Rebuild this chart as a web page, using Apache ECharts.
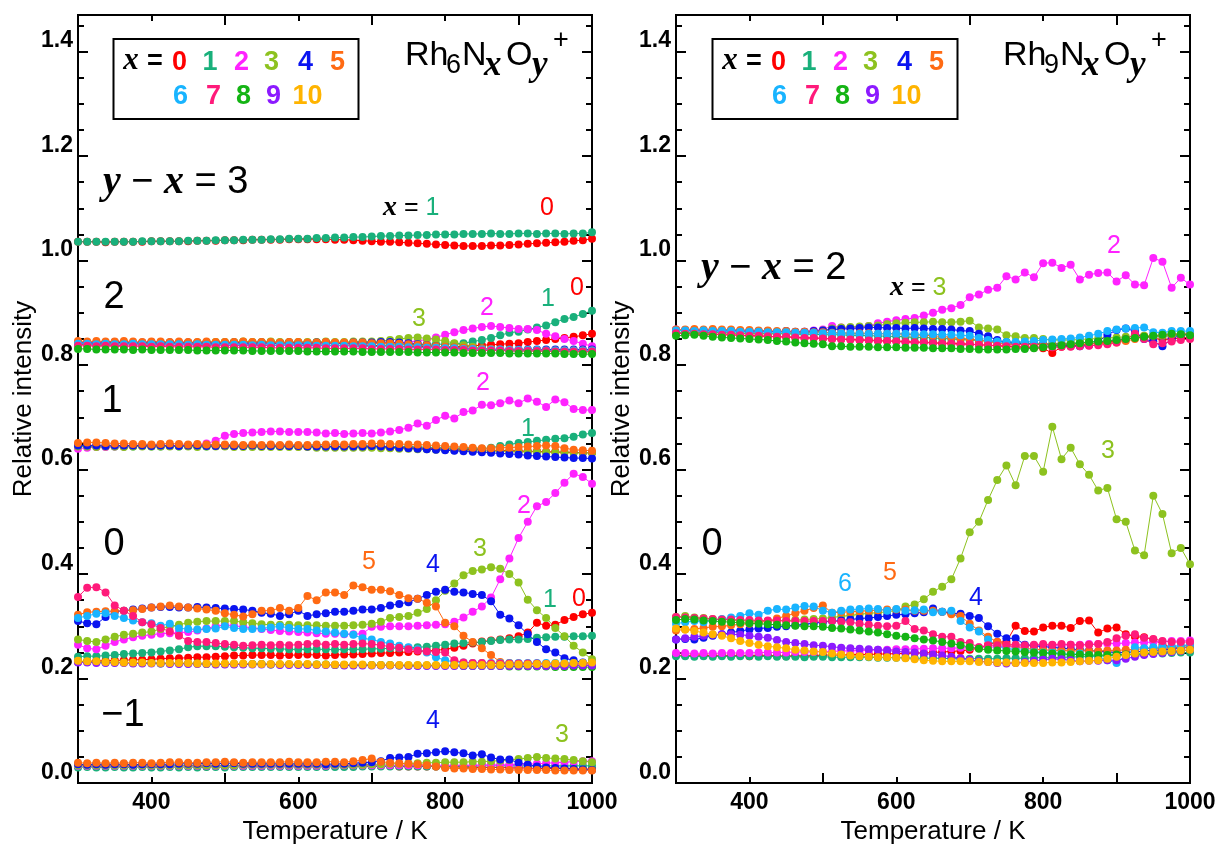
<!DOCTYPE html>
<html>
<head>
<meta charset="utf-8">
<script src="https://cdn.jsdelivr.net/npm/echarts@6/dist/echarts.min.js"></script>
<style>
  html, body { margin: 0; padding: 0; background: #fff; }
  #chart { width: 1221px; height: 850px; }
</style>
</head>
<body>
<div id="chart"></div>
<script>
// temperature points (K), shared by every trace
const temps = [300,312.5,325,337.5,350,362.5,375,387.5,400,412.5,425,437.5,450,462.5,475,487.5,500,512.5,525,537.5,
  550,562.5,575,587.5,600,612.5,625,637.5,650,662.5,675,687.5,700,712.5,725,737.5,750,762.5,775,787.5,
  800,812.5,825,837.5,850,862.5,875,887.5,900,912.5,925,937.5,950,962.5,975,987.5,1000];

// tick labels
const xMajor = [400, 600, 800, 1000];
const yMajor = [0, 0.2, 0.4, 0.6, 0.8, 1.0, 1.2, 1.4];

// number of N atoms (x) and their colours
const xValues = [0,1,2,3,4,5,6,7,8,9,10];
const xColors = ['#ff0000','#19b07b','#ff22ff','#8dc21f','#0a14f0','#ff6a13','#18b4ff','#ff1a7a','#14b414','#8c1aff','#ffb400'];

// ---- Rh6NxOy+ , y - x = 3
const rh6_y3_x0 = [1.016,1.016,1.016,1.015,1.016,1.016,1.016,1.016,1.017,1.017,
  1.017,1.017,1.017,1.018,1.018,1.018,1.019,1.019,1.019,1.020,
  1.020,1.020,1.020,1.021,1.021,1.021,1.021,1.021,1.020,1.020,
  1.019,1.018,1.017,1.016,1.016,1.015,1.014,1.013,1.012,1.011,
  1.010,1.009,1.008,1.008,1.008,1.009,1.009,1.010,1.011,1.012,
  1.013,1.014,1.015,1.016,1.018,1.019,1.022];
const rh6_y3_x1 = [1.016,1.016,1.016,1.016,1.016,1.016,1.016,1.017,1.017,1.017,
  1.017,1.017,1.018,1.018,1.018,1.019,1.019,1.019,1.020,1.020,
  1.020,1.021,1.021,1.022,1.022,1.022,1.023,1.023,1.024,1.024,
  1.025,1.025,1.026,1.027,1.027,1.028,1.028,1.029,1.029,1.030,
  1.030,1.030,1.031,1.031,1.031,1.032,1.031,1.031,1.032,1.032,
  1.031,1.032,1.032,1.031,1.032,1.032,1.034];

// ---- Rh6NxOy+ , y - x = 2
const rh6_y2_x0 = [0.820,0.819,0.818,0.819,0.818,0.818,0.819,0.818,0.818,0.819,
  0.818,0.818,0.819,0.818,0.818,0.819,0.818,0.818,0.818,0.819,
  0.818,0.818,0.818,0.819,0.818,0.818,0.819,0.818,0.818,0.818,
  0.819,0.818,0.818,0.817,0.817,0.816,0.816,0.816,0.815,0.815,
  0.815,0.815,0.816,0.817,0.818,0.819,0.820,0.821,0.822,0.824,
  0.826,0.828,0.830,0.832,0.834,0.837,0.840];
const rh6_y2_x1 = [0.822,0.822,0.821,0.822,0.821,0.822,0.822,0.821,0.822,0.822,
  0.823,0.822,0.822,0.823,0.823,0.822,0.823,0.823,0.824,0.823,
  0.823,0.824,0.823,0.823,0.823,0.822,0.823,0.822,0.822,0.822,
  0.822,0.821,0.821,0.821,0.820,0.820,0.820,0.820,0.820,0.820,
  0.820,0.821,0.822,0.825,0.828,0.832,0.837,0.842,0.844,0.848,
  0.852,0.856,0.862,0.868,0.872,0.878,0.884];
const rh6_y2_x2 = [0.822,0.821,0.822,0.822,0.821,0.822,0.822,0.822,0.821,0.822,
  0.822,0.822,0.821,0.822,0.822,0.822,0.822,0.821,0.822,0.822,
  0.822,0.822,0.821,0.822,0.822,0.822,0.821,0.822,0.822,0.822,
  0.822,0.822,0.822,0.822,0.823,0.823,0.824,0.826,0.829,0.833,
  0.838,0.843,0.847,0.850,0.853,0.855,0.853,0.851,0.849,0.849,
  0.847,0.840,0.835,0.830,0.826,0.821,0.816];
const rh6_y2_x3 = [0.820,0.821,0.820,0.821,0.822,0.821,0.822,0.822,0.822,0.823,
  0.822,0.823,0.823,0.823,0.823,0.824,0.824,0.824,0.825,0.824,
  0.824,0.825,0.824,0.824,0.824,0.824,0.824,0.825,0.824,0.824,
  0.825,0.825,0.825,0.826,0.828,0.830,0.832,0.833,0.831,0.829,
  0.826,0.822,0.818,0.815,0.812,0.810,0.809,0.808,0.808,0.807,
  0.807,0.806,0.806,0.806,0.805,0.805,0.805];
const rh6_y2_x4 = [0.822,0.823,0.822,0.823,0.824,0.823,0.822,0.823,0.824,0.822,
  0.823,0.822,0.823,0.822,0.823,0.822,0.822,0.823,0.822,0.822,
  0.823,0.822,0.822,0.823,0.822,0.822,0.823,0.823,0.822,0.822,
  0.823,0.823,0.823,0.824,0.824,0.823,0.822,0.820,0.818,0.816,
  0.814,0.813,0.812,0.811,0.811,0.810,0.810,0.810,0.810,0.810,
  0.810,0.810,0.810,0.810,0.810,0.810,0.810];
const rh6_y2_x5 = [0.826,0.825,0.826,0.825,0.825,0.826,0.825,0.824,0.825,0.825,
  0.824,0.825,0.824,0.824,0.825,0.824,0.824,0.824,0.825,0.824,
  0.824,0.824,0.823,0.824,0.824,0.823,0.823,0.824,0.823,0.823,
  0.823,0.823,0.822,0.822,0.822,0.821,0.820,0.819,0.818,0.816,
  0.815,0.814,0.813,0.812,0.811,0.811,0.810,0.810,0.809,0.809,
  0.809,0.808,0.808,0.808,0.808,0.808,0.808];
const rh6_y2_x6 = [0.821,0.821,0.820,0.821,0.820,0.820,0.821,0.820,0.820,0.820,
  0.820,0.820,0.819,0.820,0.819,0.819,0.819,0.819,0.819,0.818,
  0.819,0.818,0.818,0.818,0.818,0.818,0.817,0.817,0.817,0.817,
  0.816,0.816,0.816,0.815,0.815,0.815,0.814,0.814,0.813,0.813,
  0.812,0.812,0.811,0.811,0.810,0.810,0.810,0.809,0.809,0.809,
  0.809,0.808,0.808,0.808,0.808,0.808,0.808];
const rh6_y2_x7 = [0.817,0.817,0.816,0.817,0.816,0.816,0.816,0.816,0.815,0.816,
  0.815,0.815,0.815,0.815,0.815,0.814,0.814,0.814,0.814,0.814,
  0.814,0.813,0.813,0.813,0.813,0.813,0.813,0.812,0.812,0.812,
  0.812,0.812,0.811,0.811,0.811,0.811,0.810,0.810,0.810,0.810,
  0.809,0.809,0.809,0.808,0.808,0.808,0.808,0.807,0.807,0.807,
  0.807,0.807,0.806,0.806,0.806,0.806,0.806];
const rh6_y2_x8 = [0.811,0.811,0.810,0.810,0.810,0.810,0.809,0.810,0.809,0.809,
  0.809,0.809,0.809,0.808,0.808,0.808,0.808,0.808,0.808,0.807,
  0.807,0.807,0.807,0.807,0.807,0.806,0.806,0.806,0.806,0.806,
  0.806,0.805,0.805,0.805,0.805,0.805,0.805,0.804,0.804,0.804,
  0.804,0.804,0.803,0.803,0.803,0.803,0.803,0.802,0.802,0.802,
  0.802,0.802,0.802,0.801,0.801,0.801,0.801];

// ---- Rh6NxOy+ , y - x = 1
const rh6_y1_x0 = [0.626,0.626,0.626,0.625,0.626,0.625,0.625,0.626,0.625,0.625,
  0.625,0.625,0.625,0.625,0.625,0.625,0.625,0.625,0.625,0.625,
  0.625,0.625,0.625,0.625,0.624,0.624,0.624,0.624,0.624,0.624,
  0.624,0.623,0.623,0.623,0.622,0.622,0.622,0.621,0.621,0.620,
  0.620,0.619,0.619,0.618,0.618,0.617,0.617,0.616,0.616,0.615,
  0.615,0.614,0.614,0.613,0.613,0.612,0.612];
const rh6_y1_x1 = [0.624,0.624,0.624,0.624,0.624,0.624,0.624,0.625,0.624,0.624,
  0.625,0.624,0.625,0.625,0.624,0.625,0.625,0.625,0.625,0.625,
  0.625,0.625,0.625,0.625,0.625,0.625,0.625,0.625,0.625,0.625,
  0.625,0.625,0.625,0.625,0.624,0.624,0.624,0.623,0.623,0.622,
  0.622,0.621,0.621,0.620,0.620,0.622,0.625,0.628,0.631,0.633,
  0.635,0.637,0.639,0.640,0.643,0.647,0.650];
const rh6_y1_x2 = [0.620,0.622,0.623,0.623,0.624,0.624,0.625,0.625,0.625,0.625,
  0.626,0.626,0.626,0.627,0.630,0.635,0.645,0.648,0.650,0.651,
  0.652,0.653,0.653,0.652,0.652,0.652,0.651,0.649,0.650,0.648,
  0.649,0.650,0.649,0.651,0.653,0.656,0.660,0.668,0.664,0.675,
  0.683,0.678,0.690,0.693,0.704,0.703,0.707,0.712,0.707,0.716,
  0.710,0.700,0.714,0.709,0.696,0.694,0.694];
const rh6_y1_x3 = [0.624,0.624,0.623,0.624,0.624,0.623,0.624,0.624,0.624,0.624,
  0.624,0.624,0.624,0.623,0.624,0.624,0.624,0.623,0.623,0.623,
  0.623,0.623,0.623,0.623,0.623,0.623,0.622,0.622,0.622,0.622,
  0.622,0.622,0.622,0.621,0.621,0.620,0.620,0.619,0.619,0.618,
  0.618,0.617,0.617,0.616,0.616,0.615,0.615,0.615,0.614,0.614,
  0.614,0.613,0.613,0.613,0.612,0.612,0.612];
const rh6_y1_x4 = [0.626,0.626,0.626,0.625,0.626,0.626,0.626,0.626,0.625,0.626,
  0.626,0.625,0.626,0.626,0.625,0.625,0.626,0.625,0.625,0.626,
  0.625,0.625,0.625,0.625,0.625,0.624,0.624,0.624,0.624,0.624,
  0.624,0.624,0.625,0.624,0.623,0.622,0.621,0.620,0.619,0.618,
  0.617,0.616,0.615,0.614,0.613,0.612,0.611,0.610,0.609,0.607,
  0.606,0.605,0.604,0.603,0.602,0.602,0.601];
const rh6_y1_x5 = [0.631,0.632,0.632,0.631,0.630,0.630,0.629,0.629,0.628,0.629,
  0.630,0.629,0.628,0.629,0.628,0.628,0.628,0.628,0.627,0.628,
  0.627,0.628,0.627,0.628,0.627,0.627,0.628,0.628,0.629,0.628,
  0.629,0.629,0.630,0.630,0.629,0.629,0.628,0.628,0.627,0.626,
  0.625,0.624,0.623,0.622,0.621,0.621,0.622,0.622,0.623,0.624,
  0.625,0.626,0.625,0.621,0.618,0.617,0.616];

// ---- Rh6NxOy+ , y - x = 0
const rh6_y0_x0 = [0.212,0.213,0.214,0.214,0.215,0.215,0.216,0.216,0.217,0.218,
  0.219,0.219,0.220,0.221,0.221,0.222,0.223,0.224,0.224,0.225,
  0.225,0.225,0.224,0.225,0.225,0.226,0.225,0.224,0.225,0.226,
  0.226,0.227,0.228,0.229,0.229,0.230,0.231,0.232,0.233,0.234,
  0.236,0.239,0.243,0.247,0.251,0.253,0.255,0.257,0.261,0.268,
  0.287,0.281,0.283,0.292,0.298,0.303,0.306];
const rh6_y0_x1 = [0.222,0.223,0.223,0.224,0.225,0.227,0.228,0.229,0.230,0.232,
  0.234,0.236,0.240,0.242,0.242,0.242,0.241,0.240,0.239,0.238,
  0.238,0.237,0.237,0.236,0.236,0.236,0.236,0.236,0.235,0.236,
  0.236,0.236,0.237,0.237,0.238,0.238,0.239,0.240,0.241,0.243,
  0.245,0.247,0.248,0.249,0.250,0.252,0.254,0.255,0.255,0.256,
  0.258,0.259,0.260,0.260,0.261,0.261,0.262];
const rh6_y0_x2 = [0.245,0.238,0.236,0.243,0.250,0.255,0.259,0.262,0.264,0.266,
  0.267,0.268,0.269,0.272,0.276,0.280,0.283,0.281,0.279,0.277,
  0.275,0.273,0.271,0.270,0.269,0.268,0.267,0.266,0.266,0.265,
  0.265,0.266,0.279,0.279,0.280,0.280,0.280,0.281,0.282,0.283,
  0.284,0.289,0.297,0.308,0.318,0.335,0.370,0.410,0.449,0.480,
  0.510,0.518,0.535,0.555,0.572,0.566,0.553];
const rh6_y0_x3 = [0.255,0.252,0.250,0.255,0.260,0.264,0.266,0.268,0.270,0.275,
  0.280,0.283,0.287,0.289,0.290,0.290,0.290,0.290,0.288,0.286,
  0.284,0.283,0.283,0.283,0.282,0.282,0.282,0.281,0.281,0.281,
  0.282,0.283,0.285,0.289,0.296,0.298,0.300,0.306,0.313,0.330,
  0.348,0.362,0.378,0.386,0.389,0.393,0.390,0.380,0.364,0.331,
  0.311,0.296,0.277,0.261,0.243,0.230,0.217];
const rh6_y0_x4 = [0.290,0.286,0.284,0.298,0.308,0.310,0.312,0.314,0.316,0.317,
  0.317,0.316,0.316,0.317,0.316,0.315,0.314,0.313,0.312,0.310,
  0.306,0.304,0.300,0.303,0.310,0.300,0.303,0.305,0.308,0.308,
  0.310,0.312,0.312,0.315,0.320,0.323,0.326,0.333,0.340,0.346,
  0.350,0.346,0.345,0.342,0.340,0.328,0.302,0.295,0.282,0.265,
  0.250,0.236,0.230,0.219,0.215,0.211,0.210];
const rh6_y0_x5 = [0.302,0.307,0.308,0.309,0.309,0.310,0.311,0.313,0.316,0.318,
  0.320,0.318,0.316,0.314,0.312,0.310,0.305,0.302,0.299,0.303,
  0.310,0.310,0.315,0.310,0.315,0.338,0.330,0.345,0.345,0.340,
  0.358,0.355,0.350,0.350,0.347,0.340,0.334,0.333,0.325,0.318,
  0.287,0.280,0.262,0.250,0.238,0.225,0.212,0.210,0.209,0.209,
  0.208,0.208,0.208,0.208,0.208,0.208,0.208];
const rh6_y0_x6 = [0.296,0.300,0.304,0.305,0.300,0.296,0.291,0.288,0.286,0.281,
  0.285,0.276,0.275,0.274,0.275,0.276,0.280,0.277,0.275,0.275,
  0.276,0.278,0.280,0.277,0.275,0.275,0.272,0.270,0.268,0.266,
  0.264,0.257,0.255,0.250,0.247,0.243,0.240,0.236,0.230,0.221,
  0.215,0.212,0.211,0.210,0.210,0.210,0.210,0.210,0.210,0.210,
  0.210,0.210,0.210,0.210,0.210,0.210,0.210];
const rh6_y0_x7 = [0.336,0.354,0.355,0.345,0.320,0.310,0.300,0.288,0.284,0.277,
  0.270,0.262,0.252,0.250,0.250,0.248,0.246,0.245,0.243,0.244,
  0.245,0.244,0.245,0.244,0.245,0.246,0.247,0.245,0.246,0.245,
  0.246,0.247,0.246,0.244,0.241,0.239,0.236,0.234,0.232,0.231,
  0.230,0.215,0.211,0.210,0.210,0.209,0.209,0.209,0.209,0.209,
  0.209,0.208,0.208,0.208,0.208,0.208,0.208];
const rh6_y0_x8 = [0.213,0.212,0.212,0.211,0.211,0.211,0.210,0.210,0.210,0.209,
  0.209,0.209,0.209,0.209,0.208,0.208,0.208,0.208,0.208,0.208,
  0.208,0.207,0.207,0.207,0.207,0.207,0.207,0.207,0.206,0.206,
  0.206,0.206,0.206,0.206,0.206,0.205,0.205,0.205,0.205,0.205,
  0.205,0.205,0.204,0.204,0.204,0.204,0.204,0.203,0.203,0.203,
  0.203,0.203,0.202,0.202,0.202,0.202,0.202];
const rh6_y0_x9 = [0.211,0.211,0.210,0.210,0.210,0.210,0.209,0.209,0.209,0.209,
  0.208,0.208,0.208,0.208,0.208,0.207,0.207,0.207,0.207,0.207,
  0.207,0.207,0.206,0.206,0.206,0.206,0.206,0.206,0.206,0.205,
  0.205,0.205,0.205,0.205,0.205,0.205,0.204,0.204,0.204,0.204,
  0.204,0.204,0.204,0.204,0.204,0.204,0.204,0.204,0.204,0.204,
  0.204,0.204,0.204,0.204,0.205,0.205,0.205];
const rh6_y0_x10 = [0.214,0.213,0.213,0.212,0.212,0.211,0.211,0.211,0.210,0.210,
  0.210,0.210,0.210,0.209,0.209,0.209,0.209,0.209,0.209,0.208,
  0.208,0.208,0.208,0.208,0.208,0.208,0.207,0.207,0.207,0.207,
  0.207,0.207,0.206,0.206,0.206,0.206,0.206,0.206,0.206,0.206,
  0.206,0.206,0.206,0.206,0.206,0.206,0.206,0.207,0.207,0.207,
  0.208,0.208,0.209,0.209,0.210,0.210,0.211];

// ---- Rh6NxOy+ , y - x = -1
const rh6_ym1_x0 = [0.013,0.013,0.012,0.013,0.013,0.012,0.013,0.013,0.013,0.012,
  0.013,0.013,0.013,0.013,0.012,0.013,0.013,0.013,0.013,0.013,
  0.013,0.013,0.013,0.013,0.013,0.013,0.013,0.013,0.013,0.013,
  0.013,0.013,0.013,0.013,0.013,0.012,0.012,0.012,0.012,0.012,
  0.011,0.011,0.011,0.010,0.010,0.010,0.010,0.009,0.009,0.009,
  0.008,0.008,0.008,0.008,0.007,0.007,0.007];
const rh6_ym1_x1 = [0.010,0.011,0.010,0.010,0.011,0.010,0.010,0.011,0.010,0.010,
  0.011,0.010,0.011,0.010,0.011,0.011,0.010,0.011,0.011,0.011,
  0.011,0.011,0.011,0.011,0.011,0.011,0.011,0.011,0.011,0.011,
  0.011,0.012,0.012,0.012,0.012,0.012,0.012,0.012,0.012,0.012,
  0.012,0.012,0.012,0.012,0.013,0.013,0.013,0.013,0.013,0.013,
  0.013,0.013,0.013,0.013,0.013,0.013,0.013];
const rh6_ym1_x2 = [0.013,0.013,0.013,0.013,0.013,0.013,0.013,0.013,0.013,0.013,
  0.013,0.013,0.013,0.013,0.013,0.013,0.013,0.013,0.013,0.013,
  0.013,0.013,0.013,0.013,0.013,0.013,0.013,0.013,0.014,0.014,
  0.014,0.014,0.014,0.014,0.014,0.014,0.014,0.014,0.014,0.014,
  0.014,0.014,0.014,0.014,0.015,0.015,0.015,0.015,0.016,0.016,
  0.017,0.018,0.019,0.020,0.021,0.022,0.022];
const rh6_ym1_x3 = [0.014,0.014,0.014,0.014,0.014,0.014,0.014,0.014,0.014,0.014,
  0.014,0.014,0.014,0.014,0.014,0.014,0.014,0.014,0.015,0.015,
  0.015,0.015,0.015,0.015,0.015,0.015,0.015,0.015,0.015,0.015,
  0.015,0.015,0.016,0.016,0.017,0.017,0.018,0.018,0.019,0.019,
  0.020,0.020,0.020,0.021,0.021,0.022,0.023,0.024,0.026,0.028,
  0.030,0.028,0.027,0.026,0.024,0.022,0.020];
const rh6_ym1_x4 = [0.016,0.015,0.016,0.015,0.016,0.016,0.015,0.016,0.016,0.016,
  0.016,0.017,0.017,0.017,0.018,0.017,0.018,0.018,0.017,0.017,
  0.017,0.017,0.017,0.017,0.017,0.017,0.017,0.016,0.017,0.017,
  0.018,0.019,0.020,0.022,0.028,0.029,0.030,0.036,0.037,0.039,
  0.041,0.039,0.037,0.033,0.035,0.029,0.025,0.025,0.019,0.015,
  0.012,0.010,0.009,0.008,0.007,0.006,0.005];
const rh6_ym1_x5 = [0.019,0.018,0.019,0.018,0.019,0.018,0.019,0.019,0.018,0.019,
  0.020,0.020,0.019,0.019,0.020,0.020,0.021,0.020,0.019,0.020,
  0.020,0.020,0.020,0.021,0.020,0.020,0.020,0.021,0.021,0.020,
  0.022,0.024,0.027,0.021,0.019,0.018,0.017,0.016,0.014,0.012,
  0.009,0.008,0.008,0.007,0.007,0.006,0.006,0.005,0.005,0.005,
  0.005,0.005,0.004,0.004,0.004,0.004,0.004];

// ---- Rh9NxOy+ , y - x = 2
const rh9_y2_x0 = [0.840,0.841,0.840,0.839,0.839,0.838,0.838,0.837,0.836,0.836,
  0.835,0.834,0.834,0.833,0.832,0.832,0.831,0.830,0.830,0.829,
  0.828,0.828,0.827,0.826,0.826,0.825,0.824,0.824,0.823,0.822,
  0.822,0.821,0.820,0.819,0.818,0.817,0.816,0.815,0.814,0.813,
  0.812,0.803,0.815,0.816,0.818,0.820,0.822,0.824,0.826,0.830,
  0.838,0.835,0.831,0.829,0.830,0.832,0.834];
const rh9_y2_x1 = [0.842,0.843,0.843,0.842,0.843,0.842,0.842,0.841,0.841,0.841,
  0.840,0.840,0.840,0.839,0.839,0.839,0.838,0.838,0.838,0.837,
  0.837,0.836,0.836,0.835,0.835,0.834,0.833,0.833,0.832,0.831,
  0.830,0.829,0.828,0.827,0.826,0.825,0.824,0.823,0.822,0.822,
  0.821,0.821,0.821,0.822,0.823,0.824,0.825,0.826,0.828,0.830,
  0.832,0.833,0.834,0.835,0.836,0.837,0.838];
const rh9_y2_x2 = [0.848,0.847,0.847,0.846,0.846,0.845,0.845,0.845,0.844,0.844,
  0.844,0.843,0.843,0.843,0.844,0.846,0.848,0.855,0.852,0.850,
  0.852,0.855,0.860,0.863,0.866,0.868,0.870,0.875,0.880,0.886,
  0.889,0.895,0.910,0.915,0.924,0.928,0.950,0.944,0.957,0.948,
  0.975,0.976,0.966,0.972,0.944,0.953,0.956,0.957,0.940,0.952,
  0.934,0.933,0.985,0.978,0.928,0.947,0.934];
const rh9_y2_x3 = [0.842,0.843,0.842,0.841,0.842,0.841,0.841,0.840,0.841,0.840,
  0.840,0.840,0.841,0.841,0.842,0.843,0.846,0.850,0.852,0.853,
  0.854,0.855,0.856,0.858,0.860,0.861,0.862,0.862,0.863,0.862,
  0.862,0.863,0.865,0.852,0.850,0.848,0.837,0.835,0.832,0.832,
  0.830,0.828,0.828,0.828,0.829,0.830,0.831,0.832,0.833,0.834,
  0.835,0.836,0.836,0.837,0.838,0.840,0.842];
const rh9_y2_x4 = [0.846,0.846,0.847,0.846,0.846,0.845,0.846,0.845,0.845,0.845,
  0.845,0.844,0.845,0.844,0.844,0.845,0.846,0.848,0.849,0.850,
  0.851,0.852,0.852,0.851,0.851,0.850,0.851,0.850,0.849,0.849,
  0.848,0.846,0.845,0.840,0.835,0.828,0.823,0.822,0.821,0.820,
  0.819,0.818,0.818,0.817,0.816,0.818,0.825,0.838,0.847,0.850,
  0.845,0.830,0.825,0.816,0.830,0.838,0.840];
const rh9_y2_x5 = [0.848,0.848,0.849,0.848,0.849,0.848,0.848,0.847,0.847,0.846,
  0.846,0.845,0.845,0.844,0.844,0.843,0.843,0.842,0.842,0.841,
  0.841,0.841,0.840,0.840,0.840,0.839,0.838,0.837,0.836,0.835,
  0.833,0.831,0.830,0.828,0.825,0.822,0.820,0.820,0.819,0.819,
  0.819,0.819,0.820,0.820,0.820,0.821,0.821,0.822,0.823,0.826,
  0.830,0.834,0.836,0.837,0.838,0.839,0.840];
const rh9_y2_x6 = [0.846,0.846,0.845,0.846,0.845,0.845,0.845,0.844,0.844,0.844,
  0.843,0.843,0.843,0.842,0.842,0.842,0.841,0.841,0.841,0.841,
  0.840,0.840,0.840,0.840,0.840,0.840,0.839,0.839,0.839,0.838,
  0.838,0.837,0.836,0.832,0.828,0.825,0.824,0.824,0.825,0.826,
  0.828,0.829,0.830,0.831,0.833,0.836,0.840,0.845,0.848,0.850,
  0.851,0.852,0.843,0.842,0.845,0.845,0.845];
const rh9_y2_x7 = [0.841,0.840,0.840,0.839,0.839,0.838,0.838,0.837,0.836,0.836,
  0.835,0.834,0.834,0.833,0.832,0.832,0.831,0.830,0.829,0.829,
  0.828,0.827,0.826,0.826,0.825,0.824,0.823,0.823,0.822,0.821,
  0.821,0.820,0.820,0.819,0.818,0.817,0.816,0.815,0.815,0.815,
  0.815,0.814,0.815,0.815,0.816,0.817,0.818,0.820,0.823,0.830,
  0.840,0.830,0.820,0.822,0.825,0.828,0.830];
const rh9_y2_x8 = [0.836,0.837,0.838,0.836,0.834,0.833,0.832,0.831,0.830,0.829,
  0.828,0.826,0.825,0.823,0.822,0.821,0.820,0.816,0.816,0.815,
  0.815,0.815,0.814,0.814,0.814,0.813,0.813,0.813,0.812,0.812,
  0.812,0.811,0.811,0.810,0.810,0.810,0.810,0.811,0.811,0.812,
  0.814,0.816,0.818,0.820,0.822,0.824,0.825,0.826,0.828,0.830,
  0.832,0.834,0.836,0.838,0.840,0.839,0.837];

// ---- Rh9NxOy+ , y - x = 0
const rh9_y0_x0 = [0.225,0.224,0.225,0.225,0.224,0.225,0.224,0.225,0.223,0.225,
  0.224,0.224,0.223,0.224,0.223,0.224,0.225,0.225,0.225,0.226,
  0.226,0.226,0.227,0.227,0.228,0.228,0.229,0.229,0.230,0.231,
  0.232,0.233,0.235,0.238,0.245,0.250,0.250,0.281,0.271,0.270,
  0.278,0.281,0.281,0.277,0.290,0.291,0.268,0.276,0.278,0.265,
  0.260,0.259,0.255,0.245,0.240,0.240,0.245];
const rh9_y0_x1 = [0.223,0.223,0.222,0.223,0.222,0.223,0.222,0.223,0.223,0.222,
  0.223,0.222,0.222,0.222,0.221,0.222,0.222,0.221,0.221,0.221,
  0.221,0.221,0.220,0.220,0.220,0.220,0.219,0.219,0.219,0.219,
  0.218,0.218,0.218,0.218,0.218,0.218,0.219,0.219,0.219,0.220,
  0.220,0.220,0.221,0.221,0.222,0.222,0.223,0.224,0.224,0.225,
  0.226,0.227,0.228,0.228,0.229,0.230,0.230];
const rh9_y0_x2 = [0.229,0.229,0.228,0.229,0.228,0.229,0.229,0.229,0.229,0.230,
  0.230,0.230,0.230,0.231,0.231,0.231,0.232,0.232,0.233,0.233,
  0.234,0.234,0.235,0.235,0.236,0.236,0.237,0.237,0.238,0.238,
  0.238,0.239,0.239,0.240,0.240,0.241,0.241,0.242,0.242,0.243,
  0.243,0.244,0.244,0.245,0.245,0.246,0.246,0.247,0.247,0.248,
  0.249,0.249,0.250,0.251,0.252,0.252,0.253];
const rh9_y0_x3 = [0.298,0.300,0.297,0.296,0.294,0.293,0.292,0.291,0.290,0.290,
  0.290,0.291,0.291,0.292,0.293,0.294,0.295,0.297,0.299,0.301,
  0.303,0.305,0.306,0.308,0.310,0.318,0.322,0.332,0.346,0.356,
  0.370,0.410,0.460,0.480,0.522,0.560,0.588,0.550,0.606,0.606,
  0.576,0.662,0.600,0.622,0.590,0.570,0.540,0.545,0.485,0.480,
  0.425,0.416,0.530,0.495,0.420,0.430,0.399];
const rh9_y0_x4 = [0.255,0.256,0.255,0.258,0.262,0.265,0.268,0.271,0.274,0.276,
  0.277,0.279,0.280,0.282,0.284,0.286,0.288,0.290,0.291,0.293,
  0.295,0.296,0.298,0.300,0.302,0.303,0.305,0.307,0.314,0.308,
  0.305,0.304,0.300,0.296,0.280,0.266,0.257,0.257,0.245,0.243,
  0.241,0.240,0.238,0.237,0.235,0.234,0.232,0.231,0.230,0.230,
  0.231,0.233,0.234,0.235,0.236,0.238,0.240];
const rh9_y0_x5 = [0.272,0.274,0.275,0.277,0.279,0.280,0.282,0.284,0.285,0.287,
  0.290,0.295,0.300,0.305,0.310,0.315,0.320,0.306,0.307,0.308,
  0.309,0.310,0.311,0.312,0.312,0.312,0.310,0.310,0.310,0.308,
  0.303,0.300,0.285,0.272,0.260,0.250,0.245,0.240,0.238,0.236,
  0.235,0.234,0.234,0.233,0.233,0.233,0.233,0.234,0.234,0.235,
  0.236,0.237,0.238,0.238,0.239,0.240,0.240];
const rh9_y0_x6 = [0.285,0.288,0.290,0.288,0.292,0.294,0.297,0.300,0.305,0.302,
  0.310,0.313,0.312,0.316,0.319,0.318,0.310,0.306,0.310,0.312,
  0.313,0.314,0.313,0.310,0.313,0.310,0.311,0.312,0.307,0.308,
  0.310,0.290,0.278,0.270,0.255,0.242,0.238,0.235,0.234,0.232,
  0.230,0.230,0.228,0.226,0.228,0.225,0.222,0.215,0.210,0.225,
  0.240,0.238,0.240,0.240,0.242,0.243,0.245];
const rh9_y0_x7 = [0.298,0.297,0.296,0.295,0.294,0.293,0.293,0.292,0.292,0.291,
  0.291,0.291,0.290,0.290,0.290,0.290,0.290,0.290,0.289,0.288,
  0.285,0.283,0.281,0.280,0.281,0.290,0.275,0.272,0.265,0.260,
  0.260,0.250,0.248,0.240,0.244,0.244,0.245,0.245,0.244,0.245,
  0.246,0.245,0.246,0.245,0.244,0.245,0.246,0.250,0.257,0.262,
  0.265,0.258,0.256,0.252,0.250,0.250,0.250];
const rh9_y0_x8 = [0.292,0.294,0.293,0.291,0.290,0.289,0.288,0.287,0.286,0.285,
  0.284,0.283,0.282,0.281,0.280,0.280,0.279,0.277,0.276,0.274,
  0.272,0.270,0.268,0.265,0.262,0.260,0.257,0.255,0.253,0.250,
  0.247,0.244,0.240,0.237,0.235,0.234,0.233,0.232,0.231,0.230,
  0.229,0.228,0.227,0.226,0.226,0.225,0.225,0.225,0.226,0.226,
  0.227,0.228,0.229,0.230,0.232,0.233,0.235];
const rh9_y0_x9 = [0.255,0.257,0.260,0.262,0.264,0.265,0.265,0.264,0.262,0.260,
  0.258,0.254,0.250,0.248,0.246,0.244,0.243,0.241,0.239,0.238,
  0.237,0.236,0.235,0.234,0.232,0.231,0.230,0.228,0.226,0.224,
  0.222,0.219,0.216,0.213,0.212,0.210,0.209,0.210,0.212,0.214,
  0.216,0.218,0.217,0.215,0.213,0.214,0.214,0.215,0.215,0.218,
  0.222,0.225,0.227,0.229,0.231,0.233,0.235];
const rh9_y0_x10 = [0.276,0.274,0.271,0.268,0.265,0.262,0.257,0.252,0.248,0.245,
  0.242,0.240,0.238,0.235,0.234,0.232,0.231,0.228,0.226,0.224,
  0.223,0.222,0.221,0.221,0.220,0.219,0.217,0.215,0.214,0.213,
  0.213,0.213,0.213,0.212,0.212,0.211,0.211,0.210,0.210,0.210,
  0.210,0.211,0.211,0.212,0.213,0.214,0.215,0.218,0.222,0.225,
  0.228,0.230,0.231,0.232,0.233,0.234,0.235];

// [panel, x, values]
const traces = [
  [0, 0, rh6_y3_x0], [0, 1, rh6_y3_x1],
  [0, 0, rh6_y2_x0], [0, 1, rh6_y2_x1], [0, 2, rh6_y2_x2], [0, 3, rh6_y2_x3], [0, 4, rh6_y2_x4],
  [0, 5, rh6_y2_x5], [0, 6, rh6_y2_x6], [0, 7, rh6_y2_x7], [0, 8, rh6_y2_x8],
  [0, 0, rh6_y1_x0], [0, 1, rh6_y1_x1], [0, 2, rh6_y1_x2], [0, 3, rh6_y1_x3], [0, 4, rh6_y1_x4], [0, 5, rh6_y1_x5],
  [0, 0, rh6_y0_x0], [0, 1, rh6_y0_x1], [0, 2, rh6_y0_x2], [0, 3, rh6_y0_x3], [0, 4, rh6_y0_x4], [0, 5, rh6_y0_x5],
  [0, 6, rh6_y0_x6], [0, 7, rh6_y0_x7], [0, 8, rh6_y0_x8], [0, 9, rh6_y0_x9], [0, 10, rh6_y0_x10],
  [0, 0, rh6_ym1_x0], [0, 1, rh6_ym1_x1], [0, 2, rh6_ym1_x2], [0, 3, rh6_ym1_x3], [0, 4, rh6_ym1_x4], [0, 5, rh6_ym1_x5],
  [1, 0, rh9_y2_x0], [1, 1, rh9_y2_x1], [1, 2, rh9_y2_x2], [1, 3, rh9_y2_x3], [1, 4, rh9_y2_x4],
  [1, 5, rh9_y2_x5], [1, 6, rh9_y2_x6], [1, 7, rh9_y2_x7], [1, 8, rh9_y2_x8],
  [1, 0, rh9_y0_x0], [1, 1, rh9_y0_x1], [1, 2, rh9_y0_x2], [1, 3, rh9_y0_x3], [1, 4, rh9_y0_x4], [1, 5, rh9_y0_x5],
  [1, 6, rh9_y0_x6], [1, 7, rh9_y0_x7], [1, 8, rh9_y0_x8], [1, 9, rh9_y0_x9], [1, 10, rh9_y0_x10]
];

const SANS = '"Liberation Sans", Arial, sans-serif';
const SERIF = '"Liberation Serif", "Times New Roman", serif';
const AXES_PER_GRID = 4;

const chart = echarts.init(document.getElementById('chart'));

const tickStyle = { color: '#000', width: 2 };
const labelStyle = { color: '#000', fontFamily: SANS, fontWeight: 'bold', fontSize: 23 };
const nameStyle = { color: '#000', fontFamily: SANS, fontSize: 26 };

// inward ticks; startValue makes the ticks start at a round value even though min is not
function tick(len) {
  return { show: true, inside: true, length: len, lineStyle: tickStyle };
}
const noLine = { show: false, onZero: false };

function xAxesFor(g) {
  const base = { gridIndex: g, type: 'value', min: 300, max: 1000, splitLine: { show: false } };
  const major = { interval: 200, startValue: 400 };
  const minor = { interval: 100 };
  return [
    Object.assign({}, base, major, {
      position: 'bottom',
      axisLine: { show: true, onZero: false, lineStyle: { color: '#000', width: 2 } },
      axisTick: tick(10),
      axisLabel: Object.assign({ customValues: xMajor, margin: 8, formatter: v => String(v) }, labelStyle),
      name: 'Temperature / K', nameLocation: 'middle', nameGap: 35, nameTextStyle: nameStyle
    }),
    Object.assign({}, base, minor, { position: 'bottom', axisLine: noLine, axisTick: tick(6), axisLabel: { show: false } }),
    Object.assign({}, base, major, { position: 'top', axisLine: noLine, axisTick: tick(10), axisLabel: { show: false } }),
    Object.assign({}, base, minor, { position: 'top', axisLine: noLine, axisTick: tick(6), axisLabel: { show: false } })
  ];
}

function yAxesFor(g) {
  const base = { gridIndex: g, type: 'value', min: -0.02, max: 1.45, splitLine: { show: false } };
  const major = { interval: 0.2, startValue: 0 };
  const minor = { interval: 0.05, startValue: 0 };
  return [
    Object.assign({}, base, major, {
      position: 'left',
      axisLine: { show: true, onZero: false, lineStyle: { color: '#000', width: 2 } },
      axisTick: tick(10),
      axisLabel: Object.assign({ customValues: yMajor, margin: 5, formatter: v => v.toFixed(1) }, labelStyle),
      name: 'Relative intensity', nameLocation: 'middle', nameGap: 40, nameTextStyle: nameStyle
    }),
    Object.assign({}, base, minor, { position: 'left', axisLine: noLine, axisTick: tick(6), axisLabel: { show: false } }),
    Object.assign({}, base, major, { position: 'right', axisLine: noLine, axisTick: tick(10), axisLabel: { show: false } }),
    Object.assign({}, base, minor, { position: 'right', axisLine: noLine, axisTick: tick(6), axisLabel: { show: false } })
  ];
}

// ---------- text helpers ----------
function txt(x, y, text, size, color, extra) {
  return {
    type: 'text', x: x, y: y, silent: true, z: 100,
    style: Object.assign({
      text: String(text), fill: color || '#000', fontSize: size, fontFamily: SANS,
      align: 'center', verticalAlign: 'middle', textAlign: 'center', textVerticalAlign: 'middle'
    }, extra || {})
  };
}
const italicX = { fontFamily: SERIF, fontStyle: 'italic', fontWeight: 'bold' };
const leftAl = { align: 'left', textAlign: 'left' };

function legendBox(dx) {
  const els = [{
    type: 'rect', silent: true, z: 90,
    shape: { x: 113.5 + dx, y: 39, width: 245, height: 80 },
    style: { fill: '#fff', stroke: '#000', lineWidth: 2 }
  }];
  els.push(txt(131 + dx, 61, 'x', 31, '#000', italicX));
  els.push(txt(155 + dx, 62, '=', 27, '#000', { fontWeight: 'bold' }));
  const row1 = [179.5, 210, 241.5, 271.5, 305.5, 337.5];
  const row2 = [180.5, 213.5, 243.5, 273.5, 307.5];
  row1.forEach((cx, i) => els.push(txt(cx + dx, 63, xValues[i], 27, xColors[i], { fontWeight: 'bold' })));
  row2.forEach((cx, i) => els.push(txt(cx + dx, 97, xValues[i + 6], 27, xColors[i + 6], { fontWeight: 'bold' })));
  return els;
}

function formula(dx, n) {
  return [
    txt(405 + dx, 56, 'Rh', 34, '#000', leftAl),
    txt(446 + dx, 65.5, n, 27, '#000', leftAl),
    txt(462 + dx, 56, 'N', 34, '#000', leftAl),
    txt(484 + dx, 65.5, 'x', 35, '#000', Object.assign({}, italicX, leftAl)),
    txt(506 + dx, 56, 'O', 34, '#000', leftAl),
    txt(532 + dx, 65.5, 'y', 35, '#000', Object.assign({}, italicX, leftAl)),
    txt(553 + dx, 41, '+', 27, '#000', leftAl)
  ];
}

function richLabel(x, y, text, size, rich) {
  return {
    type: 'text', x: x, y: y, silent: true, z: 100,
    style: {
      text: text, fill: '#000', fontSize: size, fontFamily: SANS,
      align: 'left', textAlign: 'left', verticalAlign: 'middle', textVerticalAlign: 'middle',
      rich: rich
    }
  };
}
function richStyles(size, vSize) {
  const r = { v: { fontFamily: SERIF, fontStyle: 'italic', fontWeight: 'bold', fontSize: vSize || size, fill: '#000' },
              n: { fontFamily: SANS, fontSize: size, fill: '#000' } };
  xColors.forEach((c, i) => { r['c' + i] = { fontFamily: SANS, fontSize: size, fill: c }; });
  return r;
}

const graphics = [].concat(
  legendBox(0), legendBox(599),
  formula(0, '6'), formula(598, '9'),
  [
    // left panel group labels
    richLabel(103, 183, '{v|y}{n| \u2212 }{v|x}{n| = 3}', 38, richStyles(38, 40)),
    txt(114, 298, '2', 38), txt(112, 402, '1', 38), txt(114, 545, '0', 38), txt(123, 716, '\u22121', 38),
    // left panel trace annotations
    richLabel(383, 208, '{v|x}{n| = }{c1|1}', 25, richStyles(25, 28)),
    txt(547, 208, '0', 25, xColors[0]),
    txt(419, 319, '3', 25, xColors[3]), txt(487, 308, '2', 25, xColors[2]),
    txt(548, 299, '1', 25, xColors[1]), txt(577, 288, '0', 25, xColors[0]),
    txt(483, 383, '2', 25, xColors[2]), txt(528, 429, '1', 25, xColors[1]),
    txt(524, 506, '2', 25, xColors[2]),
    txt(369, 562, '5', 25, xColors[5]), txt(433, 565, '4', 25, xColors[4]), txt(480, 549, '3', 25, xColors[3]),
    txt(550, 600, '1', 25, xColors[1]), txt(579, 599, '0', 25, xColors[0]),
    txt(433, 721, '4', 25, xColors[4]), txt(562, 735, '3', 25, xColors[3]),
    // right panel
    richLabel(701, 269, '{v|y}{n| \u2212 }{v|x}{n| = 2}', 38, richStyles(38, 40)),
    txt(712, 545, '0', 38),
    richLabel(890, 288, '{v|x}{n| = }{c3|3}', 25, richStyles(25, 28)),
    txt(1114, 246, '2', 25, xColors[2]), txt(1108, 451, '3', 25, xColors[3]),
    txt(845, 584, '6', 25, xColors[6]), txt(890, 573, '5', 25, xColors[5]), txt(976, 598, '4', 25, xColors[4])
  ]
);

const option = {
  animation: false,
  backgroundColor: '#fff',
  grid: [
    { left: 78, top: 15, width: 514, height: 774, show: true, borderColor: '#000', borderWidth: 2, backgroundColor: 'transparent' },
    { left: 676, top: 15, width: 514, height: 774, show: true, borderColor: '#000', borderWidth: 2, backgroundColor: 'transparent' }
  ],
  xAxis: xAxesFor(0).concat(xAxesFor(1)),
  yAxis: yAxesFor(0).concat(yAxesFor(1)),
  series: traces.map(([panel, x, vals]) => ({
    type: 'line',
    xAxisIndex: panel * AXES_PER_GRID,
    yAxisIndex: panel * AXES_PER_GRID,
    data: temps.map((t, i) => [t, vals[i]]),
    symbol: 'circle',
    symbolSize: 8,
    showSymbol: true,
    lineStyle: { width: 1, color: xColors[x] },
    itemStyle: { color: xColors[x] },
    silent: true
  })),
  graphic: graphics
};

chart.setOption(option);
</script>
</body>
</html>
